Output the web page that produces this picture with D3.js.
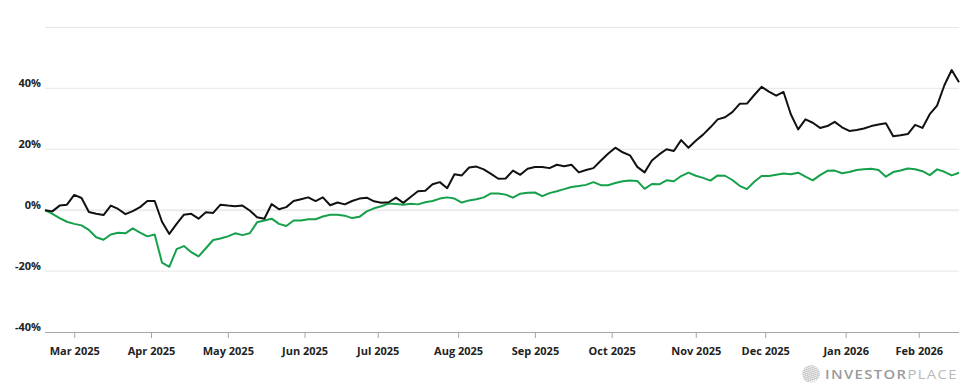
<!DOCTYPE html>
<html>
<head>
<meta charset="utf-8">
<script src="https://cdn.jsdelivr.net/npm/d3@7"></script>
<style>
  html, body { margin: 0; padding: 0; background: #fff; }
  svg { display: block; }
  text { font-family: "Open Sans", sans-serif; }
</style>
</head>
<body>
<svg id="chart" width="975" height="390"></svg>
<script>
// ---- data ----
const startDate = "2025-02-19";
const endDate = "2026-02-18";
const marketHolidays = ["2025-04-18","2025-05-26","2025-06-19","2025-07-04","2025-09-01",
  "2025-11-27","2025-12-25","2026-01-01","2026-01-19","2026-02-16"];
const sampleStep = 2; // values below are read every 2nd trading day

const stockReturn = [
  0,-0.4,1.5,1.8,5.0,4.0,-0.6,-1.2,-1.6,1.5,
  0.4,-1.3,-0.3,1.0,3.0,3.0,-3.8,-7.8,-4.5,-1.5,
  -1.2,-2.8,-0.7,-0.9,1.8,1.5,1.3,1.5,-0.1,-2.3,
  -2.8,2.0,0.3,1.0,3.0,3.6,4.2,3.0,4.2,1.6,
  2.5,1.9,3.0,3.8,4.1,2.9,2.4,2.6,4.1,2.4,
  4.3,6.2,6.4,8.5,9.2,7.2,11.8,11.4,14.0,14.3,
  13.4,11.9,10.3,10.4,13.0,11.6,13.6,14.2,14.2,13.8,
  14.9,14.4,14.9,12.4,13.2,13.8,16.2,18.5,20.5,19.0,
  18.0,14.2,12.4,16.3,18.3,20.0,19.4,23.0,20.5,22.8,
  24.8,27.2,29.8,30.5,32.2,34.9,35.0,37.8,40.5,38.9,
  37.6,38.8,31.5,26.5,29.8,28.7,27.0,27.6,29.0,27.2,
  26.0,26.3,26.8,27.6,28.1,28.5,24.3,24.6,25.0,28.0,
  27.0,31.5,34.3,41.0,46.0,42.0
];
const indexReturn = [
  0,-1.2,-2.6,-3.8,-4.5,-5.0,-6.5,-8.9,-9.7,-8.0,
  -7.4,-7.6,-6.0,-7.4,-8.6,-8.0,-17.2,-18.6,-12.8,-11.8,
  -13.8,-15.2,-12.5,-9.8,-9.3,-8.6,-7.6,-8.2,-7.6,-4.0,
  -3.4,-2.8,-4.5,-5.2,-3.4,-3.4,-3.0,-3.0,-2.1,-1.5,
  -1.5,-1.8,-2.6,-2.2,-0.4,0.6,1.3,2.2,2.0,1.8,
  2.1,1.9,2.6,3.0,3.8,4.2,3.8,2.5,3.2,3.6,
  4.2,5.5,5.5,5.1,4.1,5.4,5.7,5.8,4.6,5.6,
  6.2,6.9,7.6,7.9,8.3,9.2,8.2,8.2,8.9,9.5,
  9.7,9.6,7.0,8.6,8.5,9.8,9.5,11.2,12.3,11.3,
  10.6,9.7,11.4,11.3,9.9,8.0,6.9,9.3,11.2,11.2,
  11.6,12.0,11.8,12.3,11.0,9.8,11.5,12.9,13.0,12.1,
  12.5,13.2,13.4,13.6,13.2,11.0,12.5,13.0,13.7,13.4,
  12.8,11.5,13.4,12.6,11.4,12.3
];
const yTicks = [-40, -20, 0, 20, 40, 60];
const yTickLabels = ["-40%", "-20%", "0%", "20%", "40%", ""];
const monthTickLabels = ["Mar 2025","Apr 2025","May 2025","Jun 2025","Jul 2025","Aug 2025",
  "Sep 2025","Oct 2025","Nov 2025","Dec 2025","Jan 2026","Feb 2026"];

(function () {
// ---- trading calendar (ordinal axis) ----
const parse = d3.utcParse("%Y-%m-%d");
const fmt = d3.utcFormat("%Y-%m-%d");
const holidaySet = new Set(marketHolidays);
const tradingDays = d3.utcDays(parse(startDate), d3.utcDay.offset(parse(endDate), 1))
  .filter(d => d.getUTCDay() !== 0 && d.getUTCDay() !== 6 && !holidaySet.has(fmt(d)));
const sampleIdx = d3.range(0, tradingDays.length, sampleStep);

// first trading day of each month (tick positions)
const monthStartIdx = [];
tradingDays.forEach((d, i) => {
  if (i > 0 && d.getUTCMonth() !== tradingDays[i - 1].getUTCMonth()) monthStartIdx.push(i);
});

// ---- layout ----
const svg = d3.select("#chart");
const mLeft = 45, mRight = 959, mTop = 27.4, mBottom = 332;

const x = d3.scaleLinear().domain([0, tradingDays.length - 1]).range([mLeft, mRight]);
const y = d3.scaleLinear().domain([-40, 60]).range([mBottom, mTop]);

// gridlines
svg.append("g").selectAll("line").data(yTicks.filter(v => v !== -40)).join("line")
  .attr("x1", mLeft).attr("x2", mRight)
  .attr("y1", d => y(d)).attr("y2", d => y(d))
  .attr("stroke", d => d === 0 ? "#ebebeb" : "#e6e6e6")
  .attr("stroke-width", d => d === 0 ? 2 : 1);

// y labels
svg.append("g").selectAll("text").data(yTicks).join("text")
  .attr("x", 41).attr("y", d => y(d) - 1)
  .attr("text-anchor", "end")
  .attr("font-size", 11).attr("font-weight", 700).attr("fill", "#222")
  .text((d, i) => yTickLabels[i]);

// x axis
const xAxis = d3.axisBottom(x)
  .tickValues(monthStartIdx)
  .tickSize(6)
  .tickPadding(9)
  .tickFormat((d, i) => monthTickLabels[i]);
const gx = svg.append("g").attr("transform", `translate(0,${mBottom})`).call(xAxis);
gx.select(".domain").attr("stroke", "#a6a6a6").attr("d", `M${mLeft},0.5H${mRight}`);
gx.selectAll(".tick line").attr("stroke", "#a6a6a6");
gx.selectAll(".tick text")
  .attr("font-family", "Open Sans, sans-serif")
  .attr("font-size", 11).attr("font-weight", 700).attr("fill", "#222");

// lines
const line = d3.line().x((d, i) => x(sampleIdx[i])).y(d => y(d));
svg.append("path").datum(indexReturn)
  .attr("fill", "none").attr("stroke", "#16a04a").attr("stroke-width", 2)
  .attr("stroke-linejoin", "round").attr("d", line);
svg.append("path").datum(stockReturn)
  .attr("fill", "none").attr("stroke", "#111").attr("stroke-width", 2)
  .attr("stroke-linejoin", "round").attr("d", line);

// watermark
const wm = svg.append("g");
const gcx = 811, gcy = 374, gr = 9;
const clip = svg.append("defs").append("clipPath").attr("id", "globe");
clip.append("circle").attr("cx", gcx).attr("cy", gcy).attr("r", gr);
const globe = wm.append("g").attr("clip-path", "url(#globe)");
d3.range(-gr, gr + 1, 2).forEach(o => {
  globe.append("line").attr("x1", gcx - gr).attr("x2", gcx + gr)
    .attr("y1", gcy + o).attr("y2", gcy + o - 6)
    .attr("stroke", "#c4c4c4").attr("stroke-width", 1);
  globe.append("line").attr("x1", gcx + o).attr("x2", gcx + o + 3)
    .attr("y1", gcy - gr).attr("y2", gcy + gr)
    .attr("stroke", "#d0d0d0").attr("stroke-width", 0.8);
});
const wt = wm.append("text").attr("x", 825).attr("y", 379)
  .attr("font-size", 13).attr("letter-spacing", 1.2)
  .attr("textLength", 133).attr("lengthAdjust", "spacingAndGlyphs");
wt.append("tspan").attr("font-weight", 600).attr("fill", "#9a9a9a").text("INVESTOR");
wt.append("tspan").attr("font-weight", 400).attr("fill", "#b8b8b8").text("PLACE");
})();
</script>
</body>
</html>
